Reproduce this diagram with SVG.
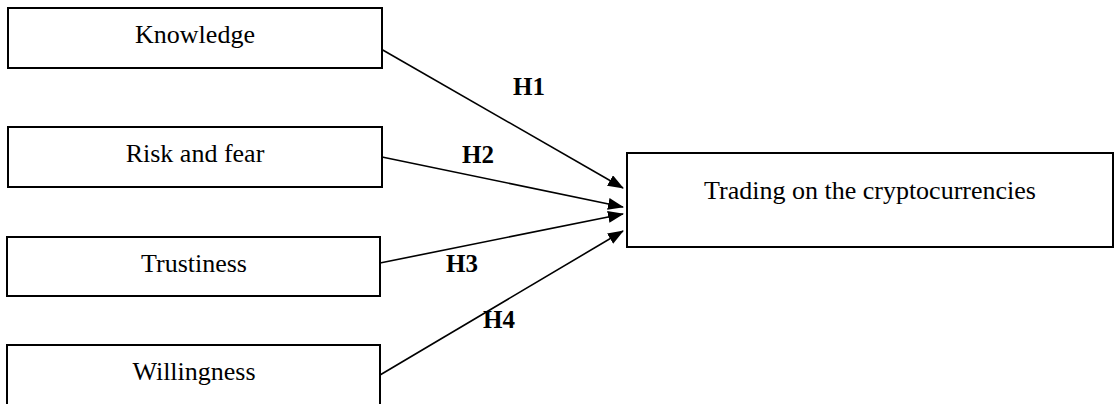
<svg xmlns="http://www.w3.org/2000/svg" width="1116" height="404" viewBox="0 0 1116 404">
<defs>
<marker id="ah" markerWidth="16" markerHeight="12" refX="15" refY="6" orient="auto" markerUnits="userSpaceOnUse">
<path d="M0,0 L16,6 L0,12 Z" fill="#000"/>
</marker>
<style>
.box{fill:#fff;stroke:#000;stroke-width:2}
.t{font-family:"Liberation Serif","Times New Roman",serif;font-size:26px;fill:#000;text-anchor:middle}
.h{font-family:"Liberation Serif","Times New Roman",serif;font-size:25px;font-weight:bold;fill:#000}
.c{stroke:#000;stroke-width:1.6;fill:none;marker-end:url(#ah)}
</style>
</defs>
<g id="connectors">
<line class="c" x1="381" y1="49" x2="623" y2="188"/>
<line class="c" x1="382" y1="157" x2="623" y2="207"/>
<line class="c" x1="380" y1="263" x2="623" y2="214"/>
<line class="c" x1="380" y1="375" x2="623" y2="231"/>
<text class="h" x="513" y="95">H1</text>
<text class="h" x="462" y="163">H2</text>
<text class="h" x="446" y="272">H3</text>
<text class="h" x="483" y="328">H4</text>
</g>
<g id="knowledge">
<rect class="box" x="8" y="8" width="374" height="60"/>
<text class="t" x="195" y="43">Knowledge</text>
</g>
<g id="risk">
<rect class="box" x="8" y="127" width="374" height="60"/>
<text class="t" x="195" y="162">Risk and fear</text>
</g>
<g id="trustiness">
<rect class="box" x="7" y="237" width="373" height="59"/>
<text class="t" x="194" y="272">Trustiness</text>
</g>
<g id="willingness">
<rect class="box" x="7" y="345" width="373" height="70"/>
<text class="t" x="194" y="380">Willingness</text>
</g>
<g id="trading">
<rect class="box" x="627" y="153" width="486" height="94"/>
<text class="t" x="870" y="199">Trading on the cryptocurrencies</text>
</g>
</svg>
